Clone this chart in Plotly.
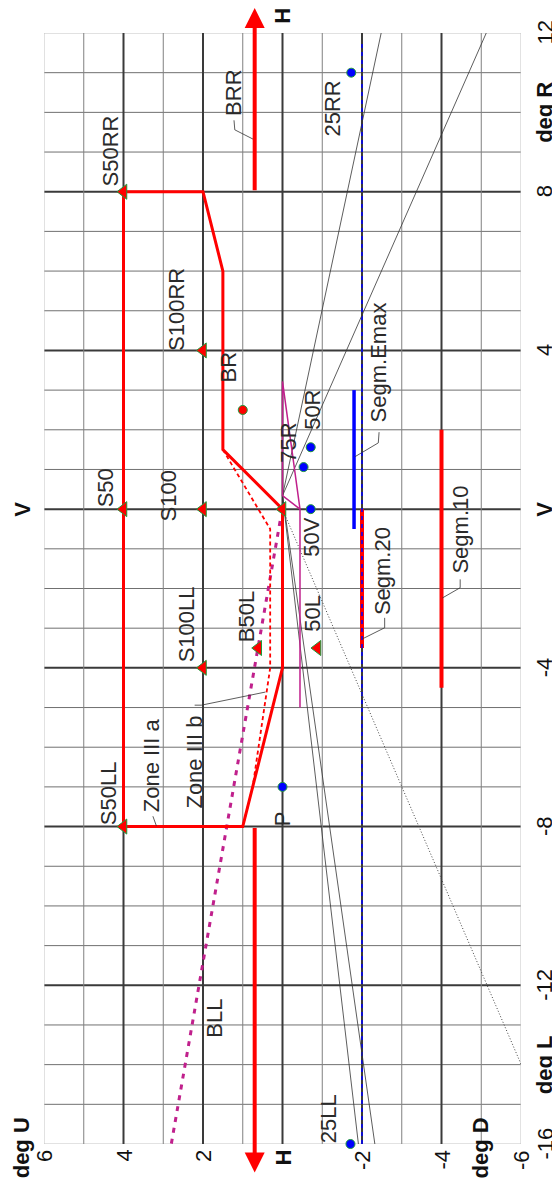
import plotly.graph_objects as go

# Coordinates: h = horizontal degrees (L negative / R positive),
#              v = vertical degrees (D negative / U positive)
# The chart is drawn rotated: plotly x = v (6 .. -6), plotly y = h (-16 .. 12)

zone_h = [8, 8, 6, 1.5, 0, -4, -8, -8, 8]
zone_v = [4, 2, 1.5, 1.5, 0, 0, 1, 4, 4]

zone3b_h = [1.5, -0.5, -4, -7, -8]
zone3b_v = [1.5, 0.31, 0.31, 0.75, 1]

bll_h = [-0.3, -16.3]
bll_v = [0.06, 2.85]

magenta_h = [-5, 0, 3.22, 0.34, 0]
magenta_v = [-0.44, -0.44, 0, 0, -0.44]

seg10_h = [2, -4.5]
seg10_v = [-4, -4]
seg20_h = [0, -3.5]
seg20_v = [-2, -2]
segemax_h = [3, -0.5]
segemax_v = [-1.8, -1.8]

blue_dash_h = [-16, 11.75]
blue_dash_v = [-2, -2]

ray_origin = (0.34, 0)
ray_end_h = [12.13, 12.1, -16.09, -16.12]
ray_end_v = [-2.51, -5.17, -1.92, -2.34]

dotted_h = [0, -14.29]
dotted_v = [0, -6.13]

# red H-lines with arrows (BRR / BLL)
brr_h = [8, 12.63]
bll_red_h = [-8, -16.72]
hline_v = 0.7

tri_names = ["S50RR", "S50", "S50LL", "S100RR", "S100", "S100LL", "B50L", "50L", "HV"]
tri_h = [8, 0, -8, 4, 0, -4, -3.5, -3.5, 0]
tri_v = [4, 4, 4, 2, 2, 2, 0.61, -0.88, 0]

dot_names = ["50V", "50R", "75R", "P", "25RR", "25LL"]
dot_h = [0, 1.56, 1.06, -7, 11, -16]
dot_v = [-0.71, -0.71, -0.53, 0, -1.73, -1.71]

br_h = [2.5]
br_v = [1.0]

label_text = ["S50RR", "S50", "S50LL", "S100RR", "S100", "S100LL", "B50L", "BR",
              "BRR", "25RR", "Segm.Emax", "75R", "50R", "50V", "50L", "Segm.20",
              "Segm.10", "Zone III a", "Zone III b", "P", "BLL", "25LL"]
label_h = [9.04, 0.54, -7.15, 5.03, 0.32, -2.91, -2.70, 3.59,
           10.49, 10.10, 3.69, 1.67, 2.51, -0.70, -2.63, -1.57,
           -0.51, -6.46, -6.37, -7.8, -12.83, -15.36]
label_v = [4.34, 4.45, 4.38, 2.67, 2.88, 2.41, 0.92, 1.35,
           1.22, -1.25, -2.42, -0.16, -0.75, -0.74, -0.75, -2.52,
           -4.47, 3.29, 2.21, 0.0, 1.71, -1.16]

leaders = [
    ([9.80, 9.56, 9.31], [1.22, 1.20, 0.71]),        # BRR
    ([1.94, 1.67, 1.32], [-2.43, -2.41, -1.82]),     # Segm.Emax
    ([-2.74, -2.99, -3.27], [-2.57, -2.57, -2.01]),  # Segm.20
    ([-1.77, -1.98, -2.24], [-4.47, -4.47, -4.02]),  # Segm.10
    ([-4.94, -4.94, -4.61], [2.21, 2.04, 0.43]),     # Zone III b
    ([-7.74, -7.85, -7.99], [3.26, 3.22, 3.17]),     # Zone III a
]

h_ticks = [12, 10, 8, 4, 0, -4, -8, -12, -14, -16]
h_ticktext = ["12", "<b>deg R</b>", "8", "4", "<b>V</b>", "-4", "-8", "-12", "<b>deg L</b>", "-16"]
v_ticks = [6, 4, 2, 0, -2, -4, -6]
v_ticktext = ["6", "4", "2", "<b>H</b>", "-2", "-4", "-6"]

# extra axis captions outside the plot area (text, h, v)
extra_text = ["<b>H</b>", "<b>V</b>", "<b>deg U</b>", "<b>deg D</b>"]
extra_h = [12.42, 0.0, -16.09, -16.11]
extra_v = [0.0, 6.54, 6.56, -4.97]

H_MIN, H_MAX = -16, 12
V_MIN, V_MAX = -6, 6

FONT = "Liberation Sans, Arial, sans-serif"
RED = "#ff0000"
BLUE = "#0000ff"
MAG = "#c0208c"
TXT = "#2a2a2a"
TICK = "#111111"

fig = go.Figure()

# grid
shapes = []
for h in range(H_MIN, H_MAX + 1):
    if h in (H_MIN, H_MAX):
        col, w = "#c4c4c4", 1
    elif h % 4 == 0:
        col, w = "#3a3a3a", 2
    else:
        col, w = "#707070", 1
    shapes.append(dict(type="line", xref="x", yref="y", x0=V_MAX, x1=V_MIN, y0=h, y1=h,
                       line=dict(color=col, width=w), layer="below"))
for v in range(V_MIN, V_MAX + 1):
    if v in (V_MIN, V_MAX):
        col, w = "#c4c4c4", 1
    elif v % 2 == 0:
        col, w = "#3a3a3a", 2
    else:
        col, w = "#808080", 1
    shapes.append(dict(type="line", xref="x", yref="y", x0=v, x1=v, y0=H_MIN, y1=H_MAX,
                       line=dict(color=col, width=w), layer="below"))

def line(hs, vs, color, width, dash="solid"):
    fig.add_trace(go.Scatter(x=vs, y=hs, mode="lines",
                             line=dict(color=color, width=width, dash=dash),
                             hoverinfo="skip", showlegend=False))

# segments
line(seg10_h, seg10_v, RED, 4)
line(seg20_h, seg20_v, RED, 4)
line(segemax_h, segemax_v, BLUE, 3.5)
line(blue_dash_h, blue_dash_v, BLUE, 1.5, "4px,4px")

# thin rays
for eh, ev in zip(ray_end_h, ray_end_v):
    line([ray_origin[0], eh], [ray_origin[1], ev], "#333333", 0.8)
line(dotted_h, dotted_v, "#444444", 1, "1px,2px")

# magenta
line(magenta_h, magenta_v, MAG, 1.5)
line(bll_h, bll_v, MAG, 3, "5px,6px")

# zone lines
line(zone3b_h, zone3b_v, RED, 1.8, "4px,3px")
line(zone_h, zone_v, RED, 3)

# leaders
for lh, lv in leaders:
    line(lh, lv, "#333333", 0.8)

# markers
fig.add_trace(go.Scatter(x=tri_v, y=tri_h, mode="markers", cliponaxis=False,
                         marker=dict(symbol="triangle-left", size=13, color=RED,
                                     line=dict(color="#1f9a3a", width=1)),
                         hoverinfo="skip", showlegend=False))
fig.add_trace(go.Scatter(x=dot_v, y=dot_h, mode="markers", cliponaxis=False,
                         marker=dict(symbol="circle", size=9, color=BLUE,
                                     line=dict(color="#1f9a3a", width=1)),
                         hoverinfo="skip", showlegend=False))
fig.add_trace(go.Scatter(x=br_v, y=br_h, mode="markers", cliponaxis=False,
                         marker=dict(symbol="circle", size=9, color=RED,
                                     line=dict(color="#1f9a3a", width=1)),
                         hoverinfo="skip", showlegend=False))

annotations = []
for t, h, v in zip(label_text, label_h, label_v):
    annotations.append(dict(x=v, y=h, xref="x", yref="y", text=t, showarrow=False,
                            textangle=-90, font=dict(family=FONT, size=22, color=TXT)))

# red arrows on H side lines
for hs in (brr_h, bll_red_h):
    annotations.append(dict(x=hline_v, y=hs[1], ax=hline_v, ay=hs[0], xref="x", yref="y",
                            axref="x", ayref="y", text="", showarrow=True,
                            arrowhead=2, arrowsize=1, arrowwidth=4, arrowcolor=RED,
                            standoff=0, startstandoff=0))

# paper coordinates derived from the axis ranges
def paper_x(v):
    return (V_MAX - v) / (V_MAX - V_MIN)

def paper_y(h):
    return (h - H_MIN) / (H_MAX - H_MIN)

for t, h, v in zip(extra_text, extra_h, extra_v):
    annotations.append(dict(x=paper_x(v), y=paper_y(h), xref="paper", yref="paper",
                            text=t, showarrow=False, textangle=-90, borderpad=0,
                            xanchor="center", yanchor="middle",
                            font=dict(family=FONT, size=22, color=TICK)))

# tick labels (rotated) along the bottom (v axis) and the right side (h axis)
for t, v in zip(v_ticktext, v_ticks):
    annotations.append(dict(x=paper_x(v), y=0, xref="paper", yref="paper",
                            text=t, showarrow=False, textangle=-90,
                            xanchor="center", yanchor="top", yshift=-4,
                            font=dict(family=FONT, size=22, color=TICK)))
for t, h in zip(h_ticktext, h_ticks):
    annotations.append(dict(x=1, y=paper_y(h), xref="paper", yref="paper",
                            text=t, showarrow=False, textangle=-90,
                            xanchor="center", yanchor="middle", xshift=23.5,
                            font=dict(family=FONT, size=22, color=TICK)))

# page body has an 8px default margin -> figure is 552x1184 so the page is 560x1192
fig.update_layout(
    width=552, height=1184,
    margin=dict(l=36, r=38.5, t=25.3, b=47.5, pad=0),
    paper_bgcolor="white", plot_bgcolor="white",
    shapes=shapes, annotations=annotations,
    xaxis=dict(range=[V_MAX, V_MIN], showticklabels=False, showgrid=False,
               zeroline=False, showline=False, ticks="", automargin=False,
               fixedrange=True),
    yaxis=dict(range=[H_MIN, H_MAX], showticklabels=False, showgrid=False,
               zeroline=False, showline=False, ticks="", automargin=False,
               fixedrange=True),
    showlegend=False,
)

fig.write_html("out.html")
